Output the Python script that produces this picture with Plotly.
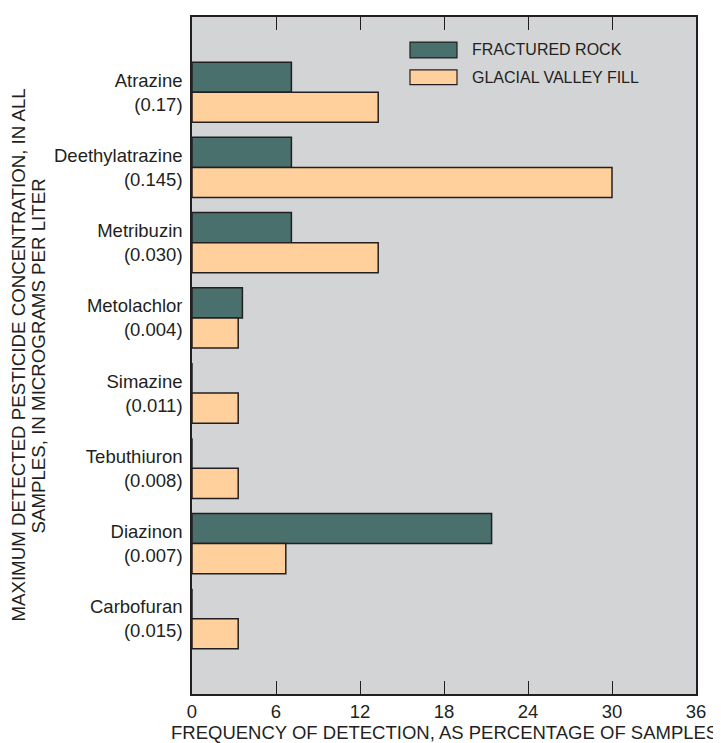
import plotly.graph_objects as go

pesticides = ["Atrazine", "Deethylatrazine", "Metribuzin", "Metolachlor",
              "Simazine", "Tebuthiuron", "Diazinon", "Carbofuran"]
max_conc = ["0.17", "0.145", "0.030", "0.004", "0.011", "0.008", "0.007", "0.015"]
fractured_rock = [7.1, 7.1, 7.1, 3.6, 0, 0, 21.4, 0]
glacial_valley_fill = [13.3, 30.0, 13.3, 3.3, 3.3, 3.3, 6.7, 3.3]
x_ticks = [0, 6, 12, 18, 24, 30, 36]

labels = [f"{p}<br>({c})" for p, c in zip(pesticides, max_conc)]

TEAL = "#4a706d"
TAN = "#ffd09b"
BG = "#d3d4d6"
INK = "#231f20"
FONT = "Liberation Sans, Arial, sans-serif"

fig = go.Figure()
fig.add_trace(go.Bar(y=labels, x=fractured_rock, orientation="h", name="FRACTURED ROCK",
                     marker=dict(color=TEAL, line=dict(color=INK, width=1.5)), showlegend=False))
fig.add_trace(go.Bar(y=labels, x=glacial_valley_fill, orientation="h", name="GLACIAL VALLEY FILL",
                     marker=dict(color=TAN, line=dict(color=INK, width=1.5)), showlegend=False))

fig.update_layout(
    width=713, height=735,
    margin=dict(l=184, r=25, t=7, b=49),
    paper_bgcolor="white", plot_bgcolor=BG,
    barmode="group", bargap=0.2, bargroupgap=0,
    font=dict(family=FONT, size=18, color=INK),
    xaxis=dict(range=[0, 36], tickvals=x_ticks, ticks="inside", ticklen=13, tickwidth=1.2,
               tickcolor=INK, showline=True, linecolor=INK, linewidth=1.5, mirror="allticks",
               showgrid=False, zeroline=False, tickfont=dict(size=18.5, color=INK)),
    yaxis=dict(type="category", categoryorder="array", categoryarray=labels,
               range=[8, -1], showline=True, linecolor=INK, linewidth=1.5, mirror=True,
               ticks="", showgrid=False, zeroline=False, ticklabelstandoff=4,
               tickfont=dict(size=18.5, color=INK)),
)

# legend
legend_items = [("FRACTURED ROCK", TEAL, 0.963, 0.9396), ("GLACIAL VALLEY FILL", TAN, 0.922, 0.900)]
for text, col, y1, y0 in legend_items:
    fig.add_shape(type="rect", xref="paper", yref="paper", x0=0.4325, x1=0.5258, y0=y0, y1=y1,
                  fillcolor=col, line=dict(color=INK, width=1.2))
    fig.add_annotation(xref="paper", yref="paper", x=0.5516, y=(y0 + y1) / 2, text=text,
                       showarrow=False, xanchor="left", yanchor="middle",
                       font=dict(family=FONT, size=16, color=INK))

# axis titles
fig.add_annotation(xref="paper", yref="paper", x=-0.345, y=0.5, textangle=-90,
                   text="MAXIMUM DETECTED PESTICIDE CONCENTRATION, IN ALL",
                   showarrow=False, xanchor="center", yanchor="middle",
                   font=dict(size=18.7, color=INK))
fig.add_annotation(xref="paper", yref="paper", x=-0.3036, y=0.5, textangle=-90,
                   text="SAMPLES, IN MICROGRAMS PER LITER",
                   showarrow=False, xanchor="center", yanchor="middle",
                   font=dict(size=18.7, color=INK))
fig.add_annotation(xref="paper", yref="paper", x=0.5, y=-0.0574,
                   text="FREQUENCY OF DETECTION, AS PERCENTAGE OF SAMPLES",
                   showarrow=False, xanchor="center", yanchor="middle",
                   font=dict(size=18.5, color=INK))

fig.write_html("out.html")
